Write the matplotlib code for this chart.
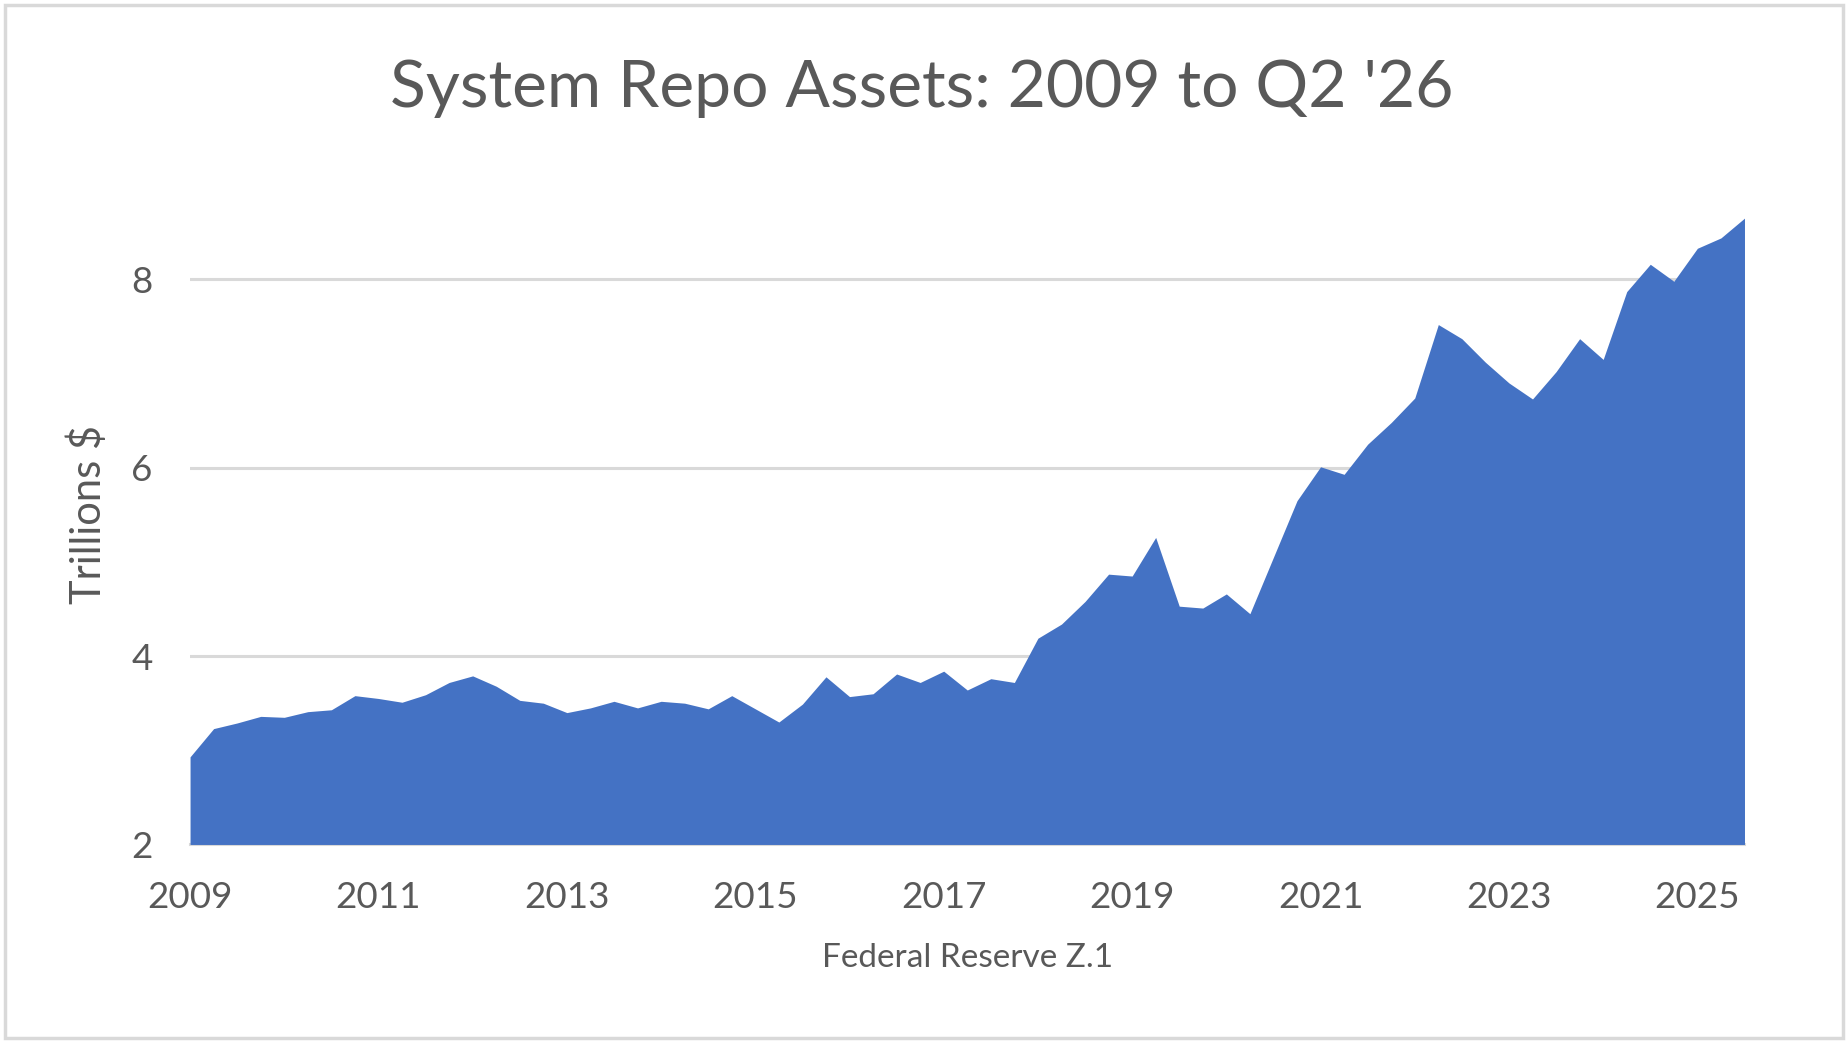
import numpy as np
import matplotlib
matplotlib.use("Agg")
import matplotlib.pyplot as plt
from matplotlib.patches import Rectangle

plt.rcParams['font.family'] = ['Lato', 'DejaVu Sans']

# --- data: quarterly system repo assets, trillions $ (2009 Q1 onward) ---
start_year = 2009
repo_trillions = [
    2.93, 3.23, 3.29, 3.36, 3.35, 3.41, 3.43, 3.58, 3.55, 3.51,
    3.59, 3.72, 3.79, 3.68, 3.53, 3.50, 3.40, 3.45, 3.52, 3.45,
    3.52, 3.50, 3.44, 3.58, 3.44, 3.30, 3.49, 3.78, 3.57, 3.60,
    3.81, 3.72, 3.84, 3.64, 3.76, 3.72, 4.19, 4.34, 4.58, 4.87,
    4.85, 5.26, 4.53, 4.51, 4.66, 4.45, 5.05, 5.65, 6.01, 5.93,
    6.25, 6.48, 6.74, 7.52, 7.37, 7.12, 6.90, 6.73, 7.02, 7.37,
    7.15, 7.87, 8.16, 7.98, 8.33, 8.44, 8.65,
]
year_ticks = [2009, 2011, 2013, 2015, 2017, 2019, 2021, 2023, 2025]
y_ticks = [2, 4, 6, 8]

title = "System Repo Assets: 2009 to Q2 '26"
source = "Federal Reserve Z.1"

text_grey = '#595959'
fill_blue = '#4472C4'
grid_grey = '#D9D9D9'

qx = start_year + np.arange(len(repo_trillions)) / 4.0

fig = plt.figure(figsize=(18.47, 10.45), dpi=100)
ax = fig.add_axes([0.1029, 0.1919, 0.9445 - 0.1029, 0.8228 - 0.1919])

ax.fill_between(qx, 2, repo_trillions, color=fill_blue, linewidth=0, zorder=3)

ax.set_xlim(qx[0], qx[-1])
ax.set_ylim(2, 9)
ax.set_yticks(y_ticks)
ax.set_xticks(year_ticks)
ax.set_xticklabels([str(y) for y in year_ticks])

ax.grid(axis='y', color=grid_grey, linewidth=2.2, zorder=1)
ax.set_axisbelow(True)
for side in ['top', 'right', 'left']:
    ax.spines[side].set_visible(False)
ax.spines['bottom'].set_color(grid_grey)
ax.spines['bottom'].set_linewidth(2.2)
ax.spines['bottom'].set_zorder(2)

ax.tick_params(axis='both', length=0, labelsize=26.5, labelcolor=text_grey)
ax.tick_params(axis='x', pad=26)
ax.tick_params(axis='y', pad=27)

ax.set_ylabel('Trillions $', fontsize=30, color=text_grey)
ax.yaxis.set_label_coords(-0.066, 0.5)
ax.yaxis.label.set_va('center')

ax.set_xlabel(source, fontsize=24, color=text_grey)
ax.xaxis.set_label_coords(0.5, -0.172)
ax.xaxis.label.set_va('center')

fig.text(0.499, 0.915, title, ha='center', va='center', fontsize=47.5, color=text_grey)

# chart area border
fig.patches.append(Rectangle((0.0026, 0.0068), 0.995, 0.9887, transform=fig.transFigure,
                             fill=False, edgecolor=grid_grey, linewidth=2.5))

fig.savefig('out.png', dpi=100, facecolor='white')
